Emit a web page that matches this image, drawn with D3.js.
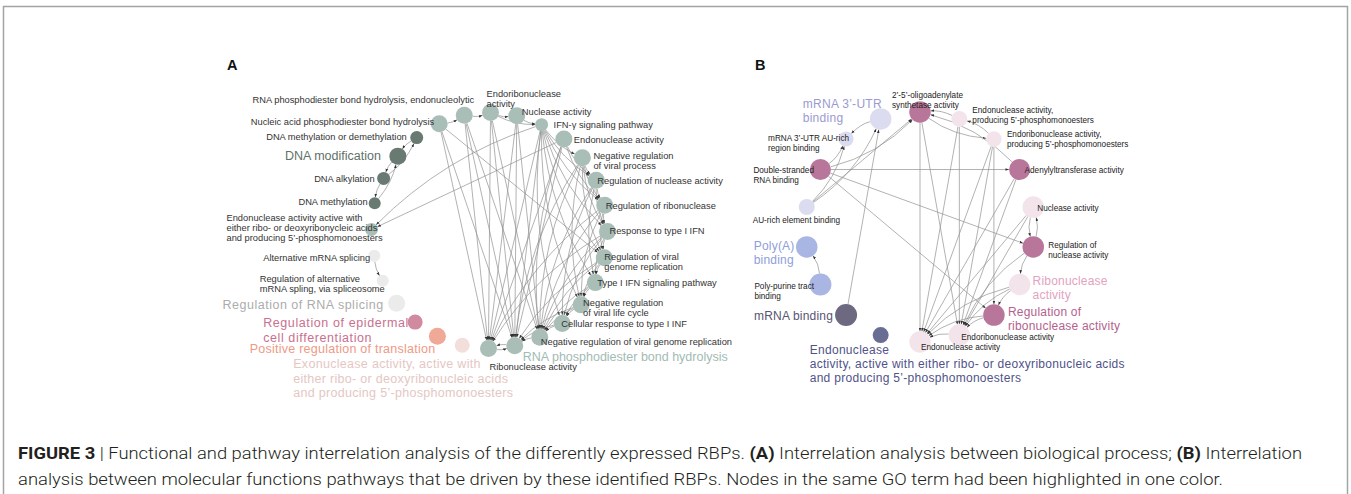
<!DOCTYPE html>
<html>
<head>
<meta charset="utf-8">
<script src="https://cdn.jsdelivr.net/npm/d3@7"></script>
<style>
  html, body { margin: 0; padding: 0; background: #fff; }
  svg { display: block; font-family: "Liberation Sans", Arial, sans-serif; }
</style>
</head>
<body>
<svg id="fig" width="1351" height="494"></svg>
<script>
// ---------- Panel A: biological-process terms, in ring order (clockwise from 3 o'clock) ----------
const termsA = [
  "Response to type I IFN",
  "Regulation of viral\ngenome replication",
  "Type I IFN signaling pathway",
  "Negative regulation\nof viral life cycle",
  "Cellular response to type I INF",
  "Negative regulation of viral genome replication",
  "RNA phosphodiester bond hydrolysis",
  "Ribonuclease activity",
  "Exonuclease activity, active with\neither ribo- or deoxyribonucleic acids\nand producing 5\u2019-phosphomonoesters",
  "Positive regulation of translation",
  "Regulation of epidermal\ncell differentiation",
  "Regulation of RNA splicing",
  "Regulation of alternative\nmRNA spling, via spliceosome",
  "Alternative mRNA splicing",
  "Endonuclease activity active with\neither ribo- or deoxyribonycleic acids\nand producing 5\u2019-phosphomonoesters",
  "DNA methylation",
  "DNA alkylation",
  "DNA modification",
  "DNA methylation or demethylation",
  "Nucleic acid phosphodiester bond hydrolysis",
  "RNA phosphodiester bond hydrolysis, endonucleolytic",
  "Endoribonuclease\nactivity",
  "Nuclease activity",
  "IFN-\u03b3 signaling pathway",
  "Endonuclease activity",
  "Negative regulation\nof viral process",
  "Regulation of nuclease activity",
  "Regulation of ribonuclease"
];
// GO group of each term
const groupA = [0,0,0,0,0,0,0,0,5,4,3,2,2,2,0,1,1,1,1,0,0,0,0,0,0,0,0,0];
// node weight (term significance), shown as node size
const weightA = [3,3,3,3,3,3,3,3,2.2,3,2.2,3,1,1,1.4,1,1.4,3,1.4,3,3,3,3,1.4,3,3,3,3];
// leading term of each group (large coloured label)
const leadA = [6,8,9,10,11,17];
// term-term links [source, target]
const edgesA = [
  [19,7],[19,6],[20,7],[20,6],[20,5],[21,7],[21,6],[21,5],[22,7],[22,6],[22,5],
  [23,7],[23,6],[24,7],[24,6],[24,14],[23,14],[19,1],[27,7],[0,7],[1,6],[25,6],
  [23,25],[23,26],[23,27],[23,0],[23,1],[23,2],[23,3],[23,4],
  [25,26],[25,27],[25,0],[25,1],[25,3],[25,5],
  [26,27],[26,0],[26,2],[26,4],[26,5],
  [27,0],[27,1],[27,3],[27,5],
  [0,1],[0,2],[0,4],[0,5],[1,2],[1,3],[1,5],[2,3],[2,4],[2,5],[3,4],[3,5],[4,5],
  [24,26],[24,27],[24,5],[4,6],[5,6],[3,6],
  [19,20],[20,21],[21,22],[22,23],[21,23],
  [18,17],[17,16],[16,15],[16,18],[15,17],
  [13,12],[6,7],[7,6]
];

// ---------- Panel B: molecular-function terms, in ring order ----------
const termsB = [
  "Regulation of\nnuclease activity",
  "Ribonuclease\nactivity",
  "Regulation of\nribonuclease activity",
  "Endoribonuclease activity",
  "Endonuclease activity",
  "Endonuclease\nactivity, active with either ribo- or deoxyribonucleic acids\nand producing 5\u2019-phosphomonoesters",
  "mRNA binding",
  "Poly-purine tract\nbinding",
  "Poly(A)\nbinding",
  "AU-rich element binding",
  "Double-stranded\nRNA binding",
  "mRNA 3\u2019-UTR AU-rich\nregion binding",
  "mRNA 3\u2019-UTR\nbinding",
  "2\u2019-5\u2019-oligoadenylate\nsynthetase activity",
  "Endonuclease activity,\nproducing 5\u2019-phosphomonoesters",
  "Endoribonuclease activity,\nproducing 5\u2019-phosphomonoesters",
  "Adenylyltransferase activity",
  "Nuclease activity"
];
const groupB = [0,1,0,1,1,5,4,3,3,2,0,2,2,0,1,1,0,1];
const weightB = [4.8,4.8,4.8,4.8,4.8,2.6,5,5,4.8,2.6,4.6,2.2,4.8,4.8,2.6,2.4,4.6,4.8];
const leadB = [1,2,5,6,8,12];
const edgesB = [
  [6,12],[7,8],[12,11],[9,11],[9,12],[9,13],[10,11],[10,13],[10,16],[10,0],[10,2],
  [14,13],[13,15],[15,14],[16,13],[13,4],[13,3],[14,4],[14,3],[15,4],[15,3],[15,2],
  [16,4],[16,3],[17,4],[17,3],[17,0],[0,17],[0,1],[1,2],[2,3],[2,4],[1,3],[1,4],[0,3],[3,4]
];

// ---------- styling / layout ----------
const styleA = {
  center: [489.5, 230.5], radius: 118, startDeg: 0.5,
  fills: ["#a8beb7", "#687a71", "#ebebeb", "#d08ba0", "#f0a897", "#f2dfdb"],
  leadColors: ["#a2bbb4", "#5f7169", "#acacac", "#c9708f", "#ee9a86", "#e4c7c3"],
  smallSize: 9.3, bigSize: 12.5, smallLH: 10, bigLH: 14.5, smallColor: "#333",
  curveMax: 9, bend: 0.12,
  // [dx, dy, anchor, letter-spacing] of each label relative to its node
  labels: [
    [2,-1,"start"],[0,-1,"start"],[2,0,"start"],[2,-2,"start"],[-1,1,"start"],[1,5,"start"],
    [8,11,"start",0],[1,19,"start"],[-169,19,"start",0.3],[-2,13,"end",0.25],[-152,1,"start",0.6],
    [-13,2,"end",0.5],[-123,-2,"start"],[-4,2,"end"],[-145,-11,"start"],[-7,-1,"end"],
    [-9,1,"end"],[-17,0,"end",0],[-10,-1,"end"],[-5,-2,"end"],[10,-15,"end"],[-4,-19,"start"],
    [5,-4,"start"],[12,0,"start"],[10,1,"start"],[11,-2,"start"],[1,1,"start"],[1,1,"start"]
  ]
};
const styleB = {
  center: [920, 227], radius: 115, startDeg: 10,
  fills: ["#b8769b", "#f3e4eb", "#dcdcf1", "#a9b5e3", "#6d6981", "#696d94"],
  leadColors: ["#b4628d", "#e3a2c0", "#9a9ad1", "#8e9edb", "#585570", "#4f5389"],
  smallSize: 8.2, bigSize: 12, smallLH: 10, bigLH: 14, smallColor: "#222",
  curveMax: 3, bend: 0.14,
  labels: [
    [15,-2,"start"],[13,-4,"start",0.2],[14,-3,"start",0.2],[2,2,"start"],[1,5,"start"],
    [-71,15,"start",0.3],[-13,1,"end",0.2],[-66,1,"start"],[-53,-1,"start",0.2],[-54,13,"start"],
    [-67,0,"start"],[-78,-1,"start"],[-78,-15,"start",0.3],[-28,-17,"start"],[13,-9,"start"],
    [13,-5,"start"],[5,0,"start"],[4,1,"start"]
  ]
};

const svg = d3.select("#fig");

// figure frame
svg.append("rect")
  .attr("x", 3.5).attr("y", 6.5).attr("width", 1344).attr("height", 600)
  .attr("fill", "none").attr("stroke", "#a3a3a3").attr("stroke-width", 1.5);

svg.append("defs").append("marker")
  .attr("id", "arrowhead")
  .attr("viewBox", "0 -3 6 6")
  .attr("refX", 6).attr("refY", 0)
  .attr("markerWidth", 3.6).attr("markerHeight", 3.6)
  .attr("markerUnits", "userSpaceOnUse")
  .attr("orient", "auto")
  .append("path").attr("d", "M0,-2.2L6,0L0,2.2Z").attr("fill", "#333");

function drawRing(terms, groups, weights, leads, edges, st) {
  const n = terms.length;
  const a0 = st.startDeg * Math.PI / 180;
  const angle = d3.scaleLinear().domain([0, n]).range([a0, a0 + 2 * Math.PI]);
  const rScale = d3.scaleLinear().domain([1, 5]).range([6, 11]);
  const nodes = terms.map((t, i) => ({
    i, name: t, g: groups[i], r: rScale(weights[i]),
    x: st.center[0] + st.radius * Math.cos(angle(i)),
    y: st.center[1] + st.radius * Math.sin(angle(i))
  }));

  const root = svg.append("g");

  // links: near neighbours on the ring as gentle curves, the rest as straight chords
  const linkG = root.append("g")
    .attr("fill", "none").attr("stroke", "#909090").attr("stroke-width", 0.7);
  edges.forEach(([s, t]) => {
    const a = nodes[s], b = nodes[t];
    const k = Math.min(Math.abs(s - t), n - Math.abs(s - t));
    const p = d3.path();
    const dx = b.x - a.x, dy = b.y - a.y;
    if (k <= st.curveMax) {
      const cx = (a.x + b.x) / 2 - dy * st.bend;
      const cy = (a.y + b.y) / 2 + dx * st.bend;
      const l0 = Math.hypot(cx - a.x, cy - a.y), l1 = Math.hypot(b.x - cx, b.y - cy);
      p.moveTo(a.x + (cx - a.x) / l0 * a.r, a.y + (cy - a.y) / l0 * a.r);
      p.quadraticCurveTo(cx, cy, b.x - (b.x - cx) / l1 * b.r, b.y - (b.y - cy) / l1 * b.r);
    } else {
      const l = Math.hypot(dx, dy);
      p.moveTo(a.x + dx / l * a.r, a.y + dy / l * a.r);
      p.lineTo(b.x - dx / l * b.r, b.y - dy / l * b.r);
    }
    linkG.append("path").attr("d", p.toString()).attr("marker-end", "url(#arrowhead)");
  });

  // nodes
  root.append("g").selectAll("circle").data(nodes).join("circle")
    .attr("cx", d => d.x).attr("cy", d => d.y).attr("r", d => d.r)
    .attr("fill", d => st.fills[d.g]);

  // labels
  const labG = root.append("g");
  nodes.forEach(d => {
    const [dx, dy, anchor, ls] = st.labels[d.i];
    const big = leads.includes(d.i);
    const lh = big ? st.bigLH : st.smallLH;
    const txt = labG.append("text")
      .attr("x", d.x + dx).attr("y", d.y + dy)
      .attr("text-anchor", anchor)
      .attr("dominant-baseline", "central")
      .attr("font-size", big ? st.bigSize : st.smallSize)
      .attr("letter-spacing", ls || 0)
      .attr("fill", big ? st.leadColors[d.g] : st.smallColor);
    d.name.split("\n").forEach((line, j) => {
      txt.append("tspan").attr("x", d.x + dx).attr("dy", j === 0 ? 0 : lh).text(line);
    });
  });
}

drawRing(termsA, groupA, weightA, leadA, edgesA, styleA);
drawRing(termsB, groupB, weightB, leadB, edgesB, styleB);

// panel letters
svg.append("text").attr("x", 227).attr("y", 70).attr("font-size", 14.5)
  .attr("font-weight", "bold").attr("fill", "#111").text("A");
svg.append("text").attr("x", 755).attr("y", 70).attr("font-size", 14.5)
  .attr("font-weight", "bold").attr("fill", "#111").text("B");

// caption
const cap1 = svg.append("text").attr("x", 18).attr("y", 459)
  .attr("font-family", "Roboto, 'Liberation Sans', Arial, sans-serif")
  .attr("font-size", 17).attr("font-weight", 300).attr("fill", "#231f20")
  .attr("textLength", 1284).attr("lengthAdjust", "spacingAndGlyphs");
cap1.append("tspan").attr("font-weight", 700).text("FIGURE 3");
cap1.append("tspan").text(" | Functional and pathway interrelation analysis of the differently expressed RBPs. ");
cap1.append("tspan").attr("font-weight", 700).text("(A)");
cap1.append("tspan").text(" Interrelation analysis between biological process; ");
cap1.append("tspan").attr("font-weight", 700).text("(B)");
cap1.append("tspan").text(" Interrelation");

svg.append("text").attr("x", 18).attr("y", 485)
  .attr("font-family", "Roboto, 'Liberation Sans', Arial, sans-serif")
  .attr("font-size", 17).attr("font-weight", 300).attr("fill", "#231f20")
  .attr("textLength", 1205).attr("lengthAdjust", "spacingAndGlyphs")
  .text("analysis between molecular functions pathways that be driven by these identified RBPs. Nodes in the same GO term had been highlighted in one color.");
</script>
</body>
</html>
